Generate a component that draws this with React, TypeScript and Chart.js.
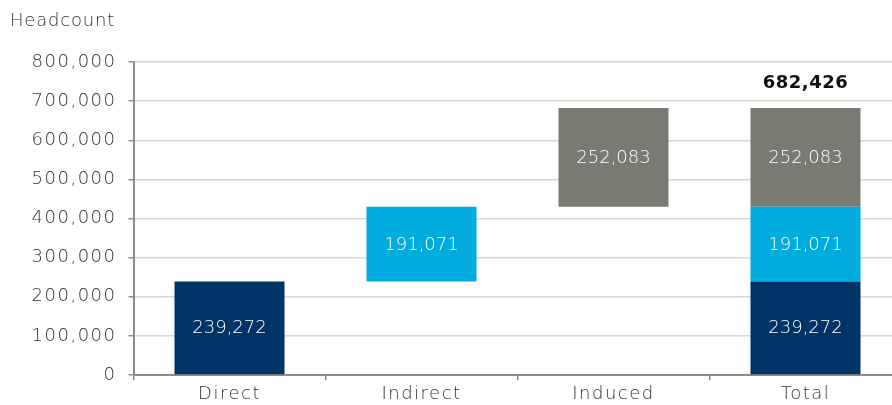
import React, { useEffect, useRef } from 'react';
import { Chart, registerables } from 'chart.js';

Chart.register(...registerables);

const categories: string[] = ['Direct', 'Indirect', 'Induced', 'Total'];
const componentNames: string[] = ['Direct', 'Indirect', 'Induced'];
const componentValues: number[] = [239272, 191071, 252083];
const totalValue = 682426;
const yMin = 0;
const yMax = 800000;
const yStep = 100000;
const yAxisTitle = 'Headcount';

const COLORS = ['#003466', '#00acde', '#7a7a73'];
const FONT = '"DejaVu Sans", "Open Sans", sans-serif';

const fmt = (v: number) => Math.round(v).toLocaleString('en-US');

export default function App() {
  const ref = useRef<HTMLCanvasElement | null>(null);

  useEffect(() => {
    if (!ref.current) return;
    const starts: number[] = [];
    let acc = 0;
    componentValues.forEach((v) => {
      starts.push(acc);
      acc += v;
    });
    const totalIndex = categories.length - 1;
    const datasets = componentValues.map((v, k) => ({
      label: componentNames[k],
      data: categories.map((_, i) =>
        i === k || i === totalIndex ? [starts[k], starts[k] + v] : null
      ) as any,
      backgroundColor: COLORS[k],
      borderWidth: 0,
      grouped: false,
      barPercentage: 0.573,
      categoryPercentage: 1,
    }));

    const spacingPlugin = {
      id: 'spacing',
      beforeUpdate(chart: any) {
        chart.ctx.letterSpacing = '1.5px';
      },
      beforeDraw(chart: any) {
        chart.ctx.letterSpacing = '1.5px';
      },
    };

    const labelPlugin = {
      id: 'labels',
      afterDatasetsDraw(chart: any) {
        const ctx = chart.ctx as CanvasRenderingContext2D;
        ctx.save();
        (ctx as any).letterSpacing = '0px';
        ctx.textAlign = 'center';
        ctx.textBaseline = 'middle';
        ctx.fillStyle = '#ffffff';
        ctx.font = `300 18px ${FONT}`;
        chart.data.datasets.forEach((ds: any, di: number) => {
          const meta = chart.getDatasetMeta(di);
          meta.data.forEach((el: any, i: number) => {
            const raw = ds.data[i];
            if (!raw) return;
            const val = raw[1] - raw[0];
            ctx.fillText(fmt(val), el.x, (el.y + el.base) / 2 + 1);
          });
        });
        // total label
        const meta = chart.getDatasetMeta(0);
        const el = meta.data[categories.length - 1];
        const yScale = chart.scales.y;
        ctx.fillStyle = '#111111';
        ctx.font = `bold 18px ${FONT}`;
        (ctx as any).letterSpacing = '0.5px';
        ctx.fillText(fmt(totalValue), el.x, yScale.getPixelForValue(totalValue) - 25);
        // axis title
        ctx.textAlign = 'left';
        ctx.fillStyle = '#333333';
        ctx.font = `300 18px ${FONT}`;
        (ctx as any).letterSpacing = '0.8px';
        ctx.fillText(yAxisTitle, 10, 21);
        ctx.restore();
      },
    };

    const chart = new Chart(ref.current, {
      type: 'bar',
      data: { labels: categories, datasets },
      options: {
        animation: false,
        responsive: false,
        maintainAspectRatio: false,
        devicePixelRatio: 1,
        layout: { padding: { top: 62, right: 3.5, left: 0, bottom: 0 } },
        plugins: {
          legend: { display: false },
          tooltip: { enabled: false },
          title: { display: false },
        },
        scales: {
          x: {
            ticks: {
              color: '#333333',
              font: { family: FONT, size: 18, weight: '300' as any },
              padding: 4,
              maxRotation: 0,
            },
            grid: {
              offset: true,
              drawOnChartArea: false,
              drawTicks: true,
              tickLength: 5,
              color: '#8c8c8c',
              tickColor: '#8c8c8c',
              lineWidth: 1.5,
            },
            border: { color: '#8c8c8c', width: 2 },
            afterFit: (s: any) => {
              s.height = 30;
            },
          },
          y: {
            min: yMin,
            max: yMax,
            ticks: {
              stepSize: yStep,
              color: '#333333',
              font: { family: FONT, size: 18, weight: '300' as any },
              padding: 12,
              callback: (v: any) => fmt(Number(v)),
            },
            grid: {
              color: '#d9d8d4',
              lineWidth: 1.5,
              tickColor: '#8c8c8c',
              tickLength: 5,
              drawTicks: true,
            },
            border: { color: '#8c8c8c', width: 2 },
            afterFit: (s: any) => {
              s.width = 133.5;
            },
          },
        },
      },
      plugins: [spacingPlugin, labelPlugin],
    });
    return () => chart.destroy();
  }, []);

  return (
    <div
      style={{
        position: 'fixed',
        left: 0,
        top: 0,
        width: 892,
        height: 405,
        overflow: 'hidden',
        background: '#ffffff',
      }}
    >
      <canvas ref={ref} width={905} height={405} style={{ display: 'block', width: 905, height: 405 }} />
    </div>
  );
}
